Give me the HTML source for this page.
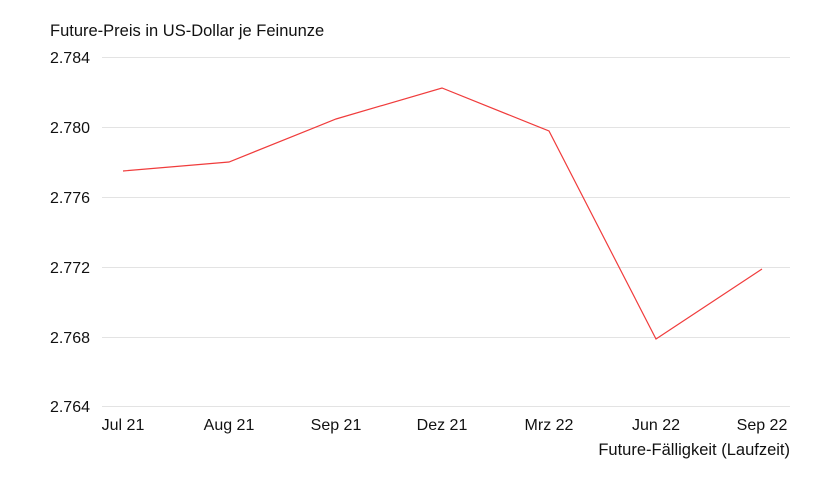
<!DOCTYPE html>
<html><head><meta charset="utf-8"><style>
html,body{margin:0;padding:0;background:#fff;}
text{font-family:"Liberation Sans",sans-serif;fill:#111;}
</style></head><body>
<svg width="840" height="480" xmlns="http://www.w3.org/2000/svg">
<text x="50" y="36" font-size="16.5">Future-Preis in US-Dollar je Feinunze</text>
<g stroke="#e3e3e3" stroke-width="1">
<line x1="102" x2="790" y1="57.5" y2="57.5"/>
<line x1="102" x2="790" y1="127.5" y2="127.5"/>
<line x1="102" x2="790" y1="197.5" y2="197.5"/>
<line x1="102" x2="790" y1="267.5" y2="267.5"/>
<line x1="102" x2="790" y1="337.5" y2="337.5"/>
<line x1="102" x2="790" y1="406.5" y2="406.5"/>
</g>
<g font-size="16" text-anchor="end">
<text x="90" y="63">2.784</text>
<text x="90" y="133">2.780</text>
<text x="90" y="203">2.776</text>
<text x="90" y="273">2.772</text>
<text x="90" y="343">2.768</text>
<text x="90" y="412">2.764</text>
</g>
<g font-size="16" text-anchor="middle">
<text x="123" y="430">Jul 21</text>
<text x="229" y="430">Aug 21</text>
<text x="336" y="430">Sep 21</text>
<text x="442" y="430">Dez 21</text>
<text x="549" y="430">Mrz 22</text>
<text x="656" y="430">Jun 22</text>
<text x="762" y="430">Sep 22</text>
</g>
<text x="790" y="455" font-size="16.5" text-anchor="end">Future-Fälligkeit (Laufzeit)</text>
<polyline fill="none" stroke="#f03c3c" stroke-width="1.2" points="123,171 229,162 336,119 442,88 549,131 656,339 762,269"/>
</svg>
</body></html>
